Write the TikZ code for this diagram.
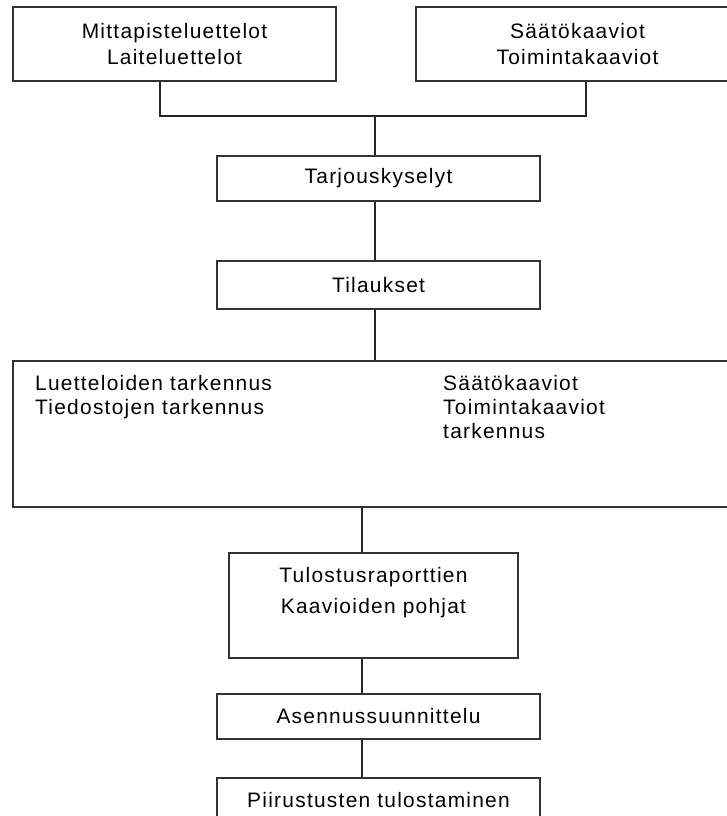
\documentclass[tikz,border=0pt]{standalone}
\usepackage{fontspec}
\setmainfont{Liberation Sans}[LetterSpace=6]
\usetikzlibrary{positioning}

\begin{document}
\begin{tikzpicture}[x=1bp,y=-1bp,font=\fontsize{21}{27}\selectfont,
	laatikko/.style={draw=black!80, line width=1.5bp, rectangle, inner sep=0pt, align=center},
	teksti/.style={inner sep=0pt, align=left},
	viiva/.style={draw=black!85, line width=1.5bp}]
	\useasboundingbox (0,0) rectangle (727,816);

	% laatikot ylhaalta alas
	\node[laatikko, minimum width=323bp, minimum height=74bp] (mitta) at (174.5,44) {Mittapisteluettelot\\Laiteluettelot};
	\node[laatikko, minimum width=323bp, minimum height=74bp] (saato) at (577.5,44) {Säätökaaviot\\Toimintakaaviot};
	\node[laatikko, minimum width=323bp, minimum height=45bp] (tarjous) at (378.5,178.5) {Tarjouskyselyt};
	\node[laatikko, minimum width=323bp, minimum height=48bp] (tilaus) at (378.5,285) {Tilaukset};
	\node[laatikko, minimum width=727bp, minimum height=146bp] (tarkennus) at (376.5,434) {};
	\node[laatikko, minimum width=289bp, minimum height=105bp] (tulostus) at (373.5,605.5) {};
	\node[laatikko, minimum width=323bp, minimum height=45bp] (asennus) at (378.5,716.5) {Asennussuunnittelu};
	\node[laatikko, minimum width=323bp, minimum height=45bp] (piirus) at (378.5,800.5) {Piirustusten tulostaminen};

	% tekstit isoissa laatikoissa
	\node[teksti, anchor=north west, font=\fontsize{21}{24}\selectfont] (luettelot) at (35,375) {Luetteloiden tarkennus\\Tiedostojen tarkennus};
	\node[teksti, anchor=north west, font=\fontsize{21}{24}\selectfont] (kaaviot) at (443,375) {Säätökaaviot\\Toimintakaaviot\\tarkennus};
	\node[teksti, anchor=north, align=center, font=\fontsize{21}{31}\selectfont] (pohjat) at (373.5,567) {Tulostusraporttien\\Kaavioiden pohjat};

	% viivat
	\coordinate (yhtyma) at (375,116);
	\coordinate (akseli) at (362,507);
	\draw[viiva] ([xshift=-14.5bp]mitta.south) |- (yhtyma) -| ([xshift=8.5bp]saato.south);
	\draw[viiva] (yhtyma) -- (yhtyma |- tarjous.north);
	\draw[viiva] (yhtyma |- tarjous.south) -- (yhtyma |- tilaus.north);
	\draw[viiva] (yhtyma |- tilaus.south) -- (yhtyma |- tarkennus.north);
	\draw[viiva] (akseli |- tarkennus.south) -- (akseli |- tulostus.north);
	\draw[viiva] (akseli |- tulostus.south) -- (akseli |- asennus.north);
	\draw[viiva] (akseli |- asennus.south) -- (akseli |- piirus.north);
\end{tikzpicture}
\end{document}
